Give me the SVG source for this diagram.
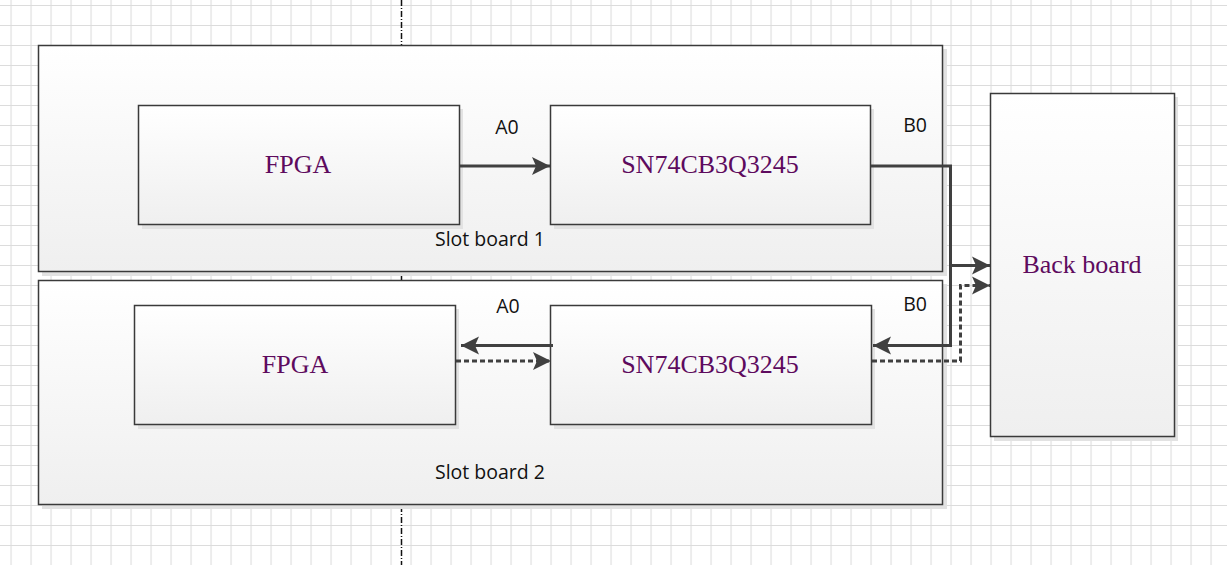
<svg xmlns="http://www.w3.org/2000/svg" width="1227" height="565" viewBox="0 0 1227 565">
<defs>
<pattern id="grid" x="10.5" y="5" width="20" height="20" patternUnits="userSpaceOnUse">
<path d="M0.5,0 V20 M0,0.5 H20" stroke="#dcdcdc" stroke-width="1.2" fill="none"/>
</pattern>
<linearGradient id="boardGrad" x1="0" y1="0" x2="0" y2="1">
<stop offset="0" stop-color="#ffffff"/>
<stop offset="1" stop-color="#efefef"/>
</linearGradient>
<marker id="arrow" markerUnits="userSpaceOnUse" markerWidth="20" markerHeight="20" refX="18" refY="10" orient="auto">
<path d="M0,1 L18,10 L0,19 L4,10 Z" fill="#404040"/>
</marker>
</defs>
<style>
.box{fill:url(#boardGrad);stroke:#3a3a3a;stroke-width:1.5}
.shadow{fill:#e2e2e2}
.chip{font-family:"Liberation Serif","Times New Roman",serif;font-size:26px;fill:#5e0b5e;text-anchor:middle}
.lbl{font-family:"Open Sans","Liberation Sans",Arial,sans-serif;font-size:19.5px;fill:#111;text-anchor:middle}
.wire{fill:none;stroke:#404040;stroke-width:3}
.dash{fill:none;stroke:#404040;stroke-width:3;stroke-dasharray:5 3}
</style>
<rect width="1227" height="565" fill="#ffffff"/>
<rect width="1227" height="565" fill="url(#grid)"/>
<line x1="401.5" y1="0" x2="401.5" y2="565" stroke="#111" stroke-width="1.5" stroke-dasharray="6 2 1 2"/>

<g id="slot1">
<rect class="shadow" x="42" y="49" width="905" height="227"/>
<rect class="box" x="38.5" y="45.5" width="904" height="226"/>
<text class="lbl" x="490" y="246">Slot board 1</text>
</g>
<g id="slot2">
<rect class="shadow" x="42" y="284" width="905" height="225"/>
<rect class="box" x="38.5" y="280.5" width="904" height="224"/>
<text class="lbl" x="490" y="479">Slot board 2</text>
</g>
<g id="fpga1">
<rect class="shadow" x="142" y="109" width="321" height="120"/>
<rect class="box" x="138.5" y="105.5" width="321" height="119"/>
<text class="chip" x="298" y="173">FPGA</text>
</g>
<g id="sn1">
<rect class="shadow" x="554" y="109" width="320" height="120"/>
<rect class="box" x="550.5" y="105.5" width="320" height="119"/>
<text class="chip" x="710" y="173">SN74CB3Q3245</text>
</g>
<g id="fpga2">
<rect class="shadow" x="138" y="309" width="321" height="120"/>
<rect class="box" x="134.5" y="305.5" width="321" height="119"/>
<text class="chip" x="295" y="373">FPGA</text>
</g>
<g id="sn2">
<rect class="shadow" x="554" y="309" width="321" height="120"/>
<rect class="box" x="550.5" y="305.5" width="321" height="119"/>
<text class="chip" x="710" y="373">SN74CB3Q3245</text>
</g>
<g id="backboard">
<rect class="shadow" x="994" y="97" width="184" height="344"/>
<rect class="box" x="990.5" y="93.5" width="184" height="343"/>
<text class="chip" x="1082" y="273">Back board</text>
</g>

<g id="connectors">
<path class="wire" d="M460,166 H550" marker-end="url(#arrow)"/>
<path class="wire" d="M871,166 H950.5 V345.5 H873" marker-end="url(#arrow)"/>
<path class="wire" d="M950.5,265.5 H990" marker-end="url(#arrow)"/>
<path class="dash" d="M872,361 H960.5 V285.5 H990" marker-end="url(#arrow)"/>
<path class="wire" d="M553,345.5 H461" marker-end="url(#arrow)"/>
<path class="dash" d="M456,361 H551" marker-end="url(#arrow)"/>
<text class="lbl" x="507" y="134">A0</text>
<text class="lbl" x="915" y="132">B0</text>
<text class="lbl" x="508" y="313">A0</text>
<text class="lbl" x="915" y="311">B0</text>
</g>
</svg>
